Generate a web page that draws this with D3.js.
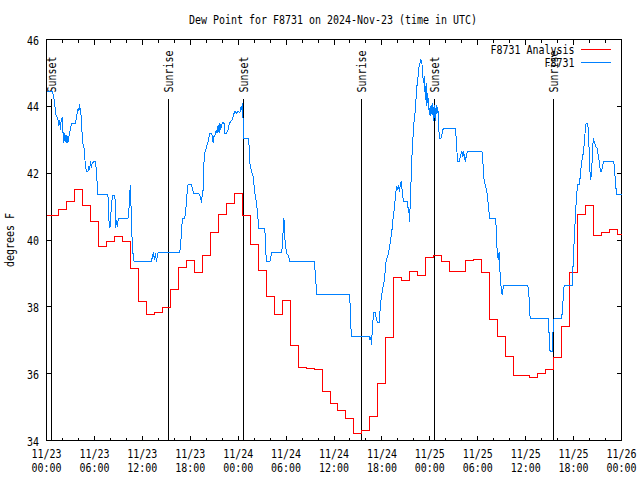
<!DOCTYPE html>
<html><head><meta charset="utf-8">
<script src="https://cdn.jsdelivr.net/npm/d3@7"></script>
<style>body{margin:0;background:#fff} svg{display:block}</style>
</head><body>
<svg id="chart" width="640" height="480"></svg>
<script>
const titleText = "Dew Point for F8731 on 2024-Nov-23 (time in UTC)";
const yLabel = "degrees F";
const seriesNames = ["F8731 Analysis", "F8731"];
const seriesColors = ["#ff0000", "#0080ff"];
const startTime = "2024-11-23T00:00:00Z";
const endTime = "2024-11-26T00:00:00Z";
const yTicks = [34, 36, 38, 40, 42, 44, 46];

// hourly analysis values, starting 2024-11-23 00:00 UTC
const analysisValues = [
 40.72,40.72,40.9,41.14,41.5,41.02,40.54,39.82,39.95,40.1,39.95,39.15,38.17,37.77,37.83,37.98,
 38.52,39.18,39.38,39.02,39.55,40.22,40.75,41.1,41.4,40.72,39.86,39.1,38.32,37.78,38.2,36.84,
 36.18,36.15,36.11,35.47,35.11,34.9,34.66,34.2,34.3,34.73,35.7,37.09,38.87,38.8,39.07,38.94,
 39.48,39.54,39.36,39.05,39.05,39.38,39.42,39.04,37.62,37.1,36.5,35.95,35.95,35.9,36.0,36.12,
 36.47,37.42,39.03,40.77,41.03,40.14,40.22,40.32,40.15
];

// station observations: [hours since 2024-11-23 00:00 UTC, degrees F]
const stationObs = [
 [0,44.45],[0.66,44.45],[0.79,44.43],[0.88,44.25],[1.00,44.2],[1.13,43.75],[1.29,43.7],[1.42,43.65],[1.54,43.4],[1.63,43.6],
 [1.76,43.3],[1.84,43.6],[1.97,43.65],[2.04,43.3],[2.17,42.9],[2.26,43.2],[2.35,43.1],[2.47,42.9],[2.55,43.15],[2.67,42.9],
 [2.80,43.1],[2.97,43.3],[3.10,43.45],[3.22,43.5],[3.64,43.5],[3.73,43.65],[3.85,43.8],[3.98,43.95],[4.05,43.85],[4.14,44.08],
 [4.23,43.9],[4.35,43.7],[4.43,43.3],[4.55,42.9],[4.68,42.8],[4.85,42.3],[4.98,42.05],[5.18,42.05],[5.31,42.2],[5.39,42.1],
 [5.52,42.35],[5.61,42.15],[5.73,42.3],[5.93,42.35],[6.15,42.35],[6.23,42.1],[6.36,41.65],[6.44,41.37],
 [7.69,41.37],[7.81,40.6],[7.94,40.35],[8.07,40.8],[8.24,41.32],[8.57,41.32],[8.66,40.35],[8.78,40.6],[8.87,40.4],[8.99,40.65],
 [10.20,40.65],[10.32,40.9],[10.41,41.32],[10.50,41.65],[10.56,41.3],[10.62,40.5],[10.75,39.9],[10.83,39.6],[10.98,39.35],
 [13.13,39.35],[13.26,39.5],[13.38,39.63],[13.51,39.4],[13.64,39.6],[13.76,39.35],[13.89,39.55],[14.01,39.63],
 [16.68,39.63],[16.81,39.9],[16.93,40.36],[17.02,40.65],[17.31,40.65],[17.44,40.9],[17.60,41.4],[17.72,41.65],[18.15,41.65],
 [18.35,41.45],[18.48,41.38],[19.10,41.38],[19.28,41.3],[19.41,41.1],[19.48,41.3],[19.61,41.5],[19.69,42.25],[19.82,42.6],
 [19.94,42.7],[20.11,42.85],[20.23,42.95],[20.36,43.1],[20.45,43.2],[20.66,43.2],[20.79,43.08],[20.86,42.9],[20.95,43.1],
 [21.07,43.12],[21.29,43.3],[21.36,43.2],[21.49,43.45],[21.61,43.2],[21.70,43.5],[21.83,43.3],[21.91,43.45],[22.12,43.52],
 [22.24,43.48],[22.33,43.2],[22.54,43.2],[22.74,43.3],[22.87,43.45],[23.04,43.55],[23.29,43.6],[23.37,43.7],[23.50,43.8],
 [23.58,43.85],[23.80,43.8],[24.00,43.85],[24.21,43.8],[24.34,43.95],[24.42,43.9],[24.50,44.05],[24.59,44.1],[24.62,43.3],
 [24.71,43.05],[25.25,43.05],[25.38,42.8],[25.46,42.3],[25.68,42.05],[25.88,41.9],[26.09,41.4],[26.30,41.1],[26.50,40.6],
 [26.53,40.35],[27.34,40.35],[27.47,39.6],[27.56,39.35],[27.97,39.35],[28.19,39.62],[29.44,39.62],[29.57,39.9],[29.64,40.4],
 [29.73,40.65],[29.82,40.2],[29.89,39.9],[30.07,39.6],[30.27,39.55],[30.48,39.35],[33.53,39.35],[33.62,39.1],[33.74,38.7],
 [33.83,38.37],[37.92,38.37],[38.01,38.1],[38.10,37.4],[38.22,37.1],[40.43,37.1],[40.52,37.0],[40.61,37.1],[40.68,36.85],
 [40.77,37.2],[40.86,37.55],[40.98,37.83],[41.14,37.83],[41.27,37.7],[41.43,37.52],[41.68,37.52],[41.77,37.9],[41.90,38.25],
 [42.11,38.55],[42.27,38.75],[42.40,39.05],[42.52,39.35],[42.69,39.5],[42.81,39.6],[43.03,39.9],[43.15,40.12],[43.24,40.25],
 [43.37,40.6],[43.53,40.9],[43.65,41.2],[43.78,41.5],[43.87,41.6],[43.94,41.5],[44.07,41.65],[44.19,41.45],[44.28,41.6],
 [44.41,41.75],[44.49,41.6],[44.57,41.4],[44.69,41.15],[45.20,41.15],[45.32,40.8],[45.37,41.0],[45.45,40.55],[45.54,41.05],
 [45.62,41.5],[45.70,42.2],[45.82,42.8],[45.95,43.3],[46.07,43.7],[46.20,43.9],[46.29,44.3],[46.38,44.6],[46.50,44.8],
 [46.58,45.1],[46.70,45.25],[46.79,45.32],[46.88,45.4],[47.00,45.32],[47.08,45.05],[47.20,44.7],[47.29,44.9],[47.38,44.5],
 [47.45,44.2],[47.54,44.7],[47.63,44.0],[47.70,44.4],[47.79,44.2],[47.88,43.95],[47.95,43.75],[48.04,44.0],[48.13,43.7],
 [48.21,44.05],[48.29,43.75],[48.38,44.1],[48.46,43.55],[48.55,43.7],[48.63,44.05],[48.71,43.55],[48.80,43.85],[48.88,44.05],
 [48.96,43.8],[49.05,43.85],[49.13,43.3],[49.21,43.05],[49.39,43.05],[49.51,43.15],[49.64,43.3],[49.80,43.35],[51.18,43.35],
 [51.31,43.05],[51.39,42.65],[51.52,42.35],[51.68,42.35],[51.81,42.5],[52.02,42.65],[52.15,42.5],[52.22,42.65],[52.35,42.5],
 [52.43,42.35],[52.56,42.5],[52.72,42.65],[54.53,42.65],[54.65,42.3],[54.73,41.9],[54.94,41.65],[55.16,41.4],[55.28,41.15],
 [55.48,40.65],[56.21,40.65],[56.34,40.3],[56.42,39.7],[56.50,39.45],[56.55,39.6],[56.63,39.4],[56.71,39.65],[56.75,39.3],
 [56.84,38.7],[56.97,38.55],[57.06,38.35],[57.13,38.5],[57.26,38.64],[60.27,38.64],[60.40,38.4],[60.48,37.9],[60.57,37.65],
 [62.81,37.65],[62.89,37.4],[62.97,37.0],[63.06,36.65],[63.31,36.65],[63.39,36.9],[63.44,37.4],[63.56,37.65],[64.51,37.65],
 [64.64,38.02],[64.76,38.56],[64.85,38.64],[65.82,38.64],[65.89,39.0],[66.02,39.7],[66.15,40.36],[66.27,40.9],[66.40,41.4],
 [66.53,41.65],[66.74,41.65],[66.86,42.0],[66.99,42.3],[67.15,42.5],[67.28,42.75],[67.40,43.1],[67.49,43.35],[67.58,43.5],
 [67.78,43.5],[67.83,43.3],[67.90,42.95],[67.99,42.45],[68.08,41.9],[68.15,41.8],[68.24,42.05],[68.33,42.4],[68.40,42.8],
 [68.49,43.05],[68.58,42.95],[68.65,42.9],[68.74,42.8],[68.95,42.75],[69.03,42.6],[69.15,42.45],[69.28,42.2],[69.37,42.05],
 [69.49,42.05],[69.66,42.25],[69.78,42.35],[71.04,42.35],[71.16,42.0],[71.29,41.6],[71.38,41.37],[72.00,41.37]
];

const sunLabels = ["Sunset", "Sunrise", "Sunset", "Sunrise", "Sunset", "Sunrise"];
const sunTimes = ["2024-11-23T00:35:00Z", "2024-11-23T15:13:00Z", "2024-11-24T00:37:00Z",
                  "2024-11-24T15:20:00Z", "2024-11-25T00:35:00Z", "2024-11-25T15:24:00Z"];

const FONT = "DejaVu Sans Mono";
const CHARW = 6;
const svg = d3.select("#chart");
const t0 = new Date(startTime), t1 = new Date(endTime);
const L = 46.5, R = 621.5, T = 39.5, B = 440.5;
const x = d3.scaleUtc().domain([t0, t1]).range([L, R]);
const y = d3.scaleLinear().domain([34, 46]).range([B, T]);

function txt(g, s) {
  return g.append("text").text(s)
    .attr("font-family", FONT).attr("font-size", 12).attr("fill", "#000")
    .attr("textLength", s.length * CHARW).attr("lengthAdjust", "spacingAndGlyphs");
}

const majorT = d3.utcHour.every(6).range(t0, new Date(+t1 + 1));
const minorT = d3.utcHour.every(2).range(t0, new Date(+t1 + 1));

function styleAxis(g) {
  g.select(".domain").remove();
  g.selectAll("line").attr("stroke", "#000").attr("shape-rendering", "crispEdges");
  g.selectAll("text").remove();
}

// ticks (inward, mirrored)
svg.append("g").attr("transform", `translate(0,${B})`)
  .call(d3.axisBottom(x).tickValues(minorT).tickSizeInner(-3).tickSizeOuter(0).offset(0)).call(styleAxis);
svg.append("g").attr("transform", `translate(0,${B})`)
  .call(d3.axisBottom(x).tickValues(majorT).tickSizeInner(-5).tickSizeOuter(0).offset(0)).call(styleAxis);
svg.append("g").attr("transform", `translate(0,${T})`)
  .call(d3.axisTop(x).tickValues(minorT).tickSizeInner(-3).tickSizeOuter(0).offset(0)).call(styleAxis);
svg.append("g").attr("transform", `translate(0,${T})`)
  .call(d3.axisTop(x).tickValues(majorT).tickSizeInner(-5).tickSizeOuter(0).offset(0)).call(styleAxis);
svg.append("g").attr("transform", `translate(${L},0)`)
  .call(d3.axisLeft(y).tickValues(yTicks).tickSizeInner(-5).tickSizeOuter(0).offset(0)).call(styleAxis);
svg.append("g").attr("transform", `translate(${R},0)`)
  .call(d3.axisRight(y).tickValues(yTicks).tickSizeInner(-5).tickSizeOuter(0).offset(0)).call(styleAxis);

// tick labels
const fmtD = d3.utcFormat("%m/%d"), fmtH = d3.utcFormat("%H:%M");
majorT.forEach(d => {
  txt(svg, fmtD(d)).attr("x", x(d)).attr("y", 457.5).attr("text-anchor", "middle");
  txt(svg, fmtH(d)).attr("x", x(d)).attr("y", 471.5).attr("text-anchor", "middle");
});
yTicks.forEach(v => {
  txt(svg, String(v)).attr("x", 39).attr("y", y(v) + 5).attr("text-anchor", "end");
});

// border
svg.append("rect").attr("x", L).attr("y", T).attr("width", R - L).attr("height", B - T)
  .attr("fill", "none").attr("stroke", "#000").attr("shape-rendering", "crispEdges");

// sunrise / sunset markers
sunTimes.forEach((s, i) => {
  const xx = Math.round(x(new Date(s))) + 0.5;
  svg.append("line").attr("x1", xx).attr("x2", xx).attr("y1", 99).attr("y2", y(34))
    .attr("stroke", "#000").attr("shape-rendering", "crispEdges");
  txt(svg, sunLabels[i]).attr("transform", `translate(${xx + 4.5},92.5) rotate(-90)`);
});

// series
const analysis = analysisValues.map((v, i) => ({t: d3.utcHour.offset(t0, i), v}));
const station = stationObs.map(([h, v]) => ({t: new Date(+t0 + h * 3600e3), v}));
const line = d3.line().x(d => x(d.t)).y(d => y(d.v));

svg.append("path").datum(analysis).attr("fill", "none").attr("stroke", seriesColors[0])
  .attr("stroke-width", 1).attr("shape-rendering", "crispEdges")
  .attr("d", line.curve(d3.curveStep));
svg.append("path").datum(station).attr("fill", "none").attr("stroke", seriesColors[1])
  .attr("stroke-width", 1).attr("shape-rendering", "crispEdges")
  .attr("d", d3.line().x(d => x(d.t)).y(d => y(d.v)));

// legend
seriesNames.forEach((n, i) => {
  const ly = 49.5 + i * 13;
  txt(svg, n).attr("x", 574.5).attr("y", ly + 4.5).attr("text-anchor", "end");
  svg.append("line").attr("x1", 581).attr("x2", 611).attr("y1", ly).attr("y2", ly)
    .attr("stroke", seriesColors[i]).attr("shape-rendering", "crispEdges");
});

// title & y label
txt(svg, titleText).attr("x", 333).attr("y", 24).attr("text-anchor", "middle");
txt(svg, yLabel).attr("text-anchor", "middle").attr("transform", "translate(14,240) rotate(-90)");
</script>
</body></html>
